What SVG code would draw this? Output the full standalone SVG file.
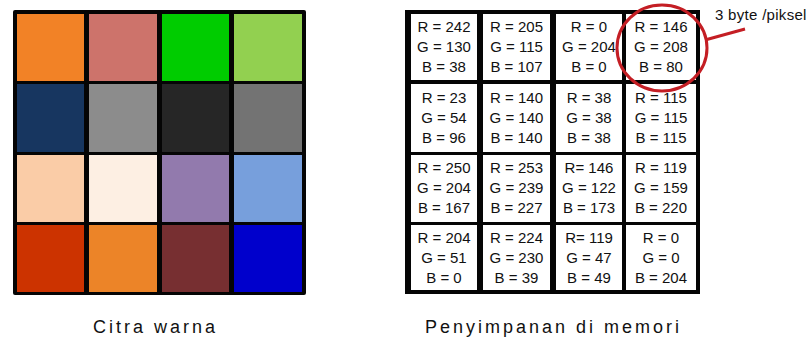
<svg xmlns="http://www.w3.org/2000/svg" width="810" height="342" viewBox="0 0 810 342">
<style>
.v{font-family:"Liberation Sans",Arial,sans-serif;font-size:15px;fill:#111;text-anchor:middle}
.cap{font-family:"Liberation Sans",Arial,sans-serif;font-size:18px;fill:#111;letter-spacing:3px}
.note{font-family:"Liberation Sans",Arial,sans-serif;font-size:15px;fill:#111;letter-spacing:0.3px}
.mc{fill:#fff}
.ring{fill:none;stroke:#c41e24;stroke-width:3}
</style>
<rect width="810" height="342" fill="#fff"/>
<g id="citra-warna">
<rect x="13" y="10" width="293" height="285" rx="2" fill="#050505"/>
<rect x="17" y="14" width="67" height="67" fill="rgb(242,130,38)"/>
<rect x="89" y="14" width="68" height="67" fill="rgb(205,115,107)"/>
<rect x="162" y="14" width="67" height="67" fill="rgb(0,204,0)"/>
<rect x="234" y="14" width="68" height="67" fill="rgb(146,208,80)"/>
<rect x="17" y="84" width="67" height="68" fill="rgb(23,54,96)"/>
<rect x="89" y="84" width="68" height="68" fill="rgb(140,140,140)"/>
<rect x="162" y="84" width="67" height="68" fill="rgb(38,38,38)"/>
<rect x="234" y="84" width="68" height="68" fill="rgb(115,115,115)"/>
<rect x="17" y="155" width="67" height="67" fill="rgb(250,204,167)"/>
<rect x="89" y="155" width="68" height="67" fill="rgb(253,239,227)"/>
<rect x="162" y="155" width="67" height="67" fill="rgb(146,122,173)"/>
<rect x="234" y="155" width="68" height="67" fill="rgb(119,159,220)"/>
<rect x="17" y="225" width="67" height="67" fill="rgb(204,51,0)"/>
<rect x="89" y="225" width="68" height="67" fill="rgb(236,132,40)"/>
<rect x="162" y="225" width="67" height="67" fill="rgb(119,47,49)"/>
<rect x="234" y="225" width="68" height="67" fill="rgb(0,0,204)"/>
</g>
<g id="memori">
<rect x="405" y="10" width="295" height="284" fill="#050505"/>
<rect class="mc" x="411" y="14" width="66" height="66"/>
<rect class="mc" x="483" y="14" width="67" height="66"/>
<rect class="mc" x="556" y="14" width="66" height="66"/>
<rect class="mc" x="626" y="14" width="70" height="66"/>
<rect class="mc" x="411" y="84" width="66" height="68"/>
<rect class="mc" x="483" y="84" width="67" height="68"/>
<rect class="mc" x="556" y="84" width="66" height="68"/>
<rect class="mc" x="626" y="84" width="70" height="68"/>
<rect class="mc" x="411" y="155" width="66" height="67"/>
<rect class="mc" x="483" y="155" width="67" height="67"/>
<rect class="mc" x="556" y="155" width="66" height="67"/>
<rect class="mc" x="626" y="155" width="70" height="67"/>
<rect class="mc" x="411" y="225" width="66" height="65"/>
<rect class="mc" x="483" y="225" width="67" height="65"/>
<rect class="mc" x="556" y="225" width="66" height="65"/>
<rect class="mc" x="626" y="225" width="70" height="65"/>
<text class="v" x="444" y="32">R = 242</text><text class="v" x="444" y="52">G = 130</text><text class="v" x="444" y="72">B = 38</text>
<text class="v" x="516.5" y="32">R = 205</text><text class="v" x="516.5" y="52">G = 115</text><text class="v" x="516.5" y="72">B =  107</text>
<text class="v" x="589" y="32">R = 0</text><text class="v" x="589" y="52">G = 204</text><text class="v" x="589" y="72">B = 0</text>
<text class="v" x="661" y="32">R = 146</text><text class="v" x="661" y="52">G = 208</text><text class="v" x="661" y="72">B = 80</text>
<text class="v" x="444" y="103">R = 23</text><text class="v" x="444" y="123">G = 54</text><text class="v" x="444" y="143">B = 96</text>
<text class="v" x="516.5" y="103">R = 140</text><text class="v" x="516.5" y="123">G = 140</text><text class="v" x="516.5" y="143">B = 140</text>
<text class="v" x="589" y="103">R = 38</text><text class="v" x="589" y="123">G = 38</text><text class="v" x="589" y="143">B = 38</text>
<text class="v" x="661" y="103">R = 115</text><text class="v" x="661" y="123">G = 115</text><text class="v" x="661" y="143">B = 115</text>
<text class="v" x="444" y="173">R = 250</text><text class="v" x="444" y="193">G = 204</text><text class="v" x="444" y="213">B = 167</text>
<text class="v" x="516.5" y="173">R = 253</text><text class="v" x="516.5" y="193">G = 239</text><text class="v" x="516.5" y="213">B = 227</text>
<text class="v" x="589" y="173">R= 146</text><text class="v" x="589" y="193">G = 122</text><text class="v" x="589" y="213">B = 173</text>
<text class="v" x="661" y="173">R = 119</text><text class="v" x="661" y="193">G = 159</text><text class="v" x="661" y="213">B = 220</text>
<text class="v" x="444" y="243">R = 204</text><text class="v" x="444" y="263">G = 51</text><text class="v" x="444" y="283">B = 0</text>
<text class="v" x="516.5" y="243">R = 224</text><text class="v" x="516.5" y="263">G = 230</text><text class="v" x="516.5" y="283">B = 39</text>
<text class="v" x="589" y="243">R= 119</text><text class="v" x="589" y="263">G = 47</text><text class="v" x="589" y="283">B = 49</text>
<text class="v" x="661" y="243">R = 0</text><text class="v" x="661" y="263">G = 0</text><text class="v" x="661" y="283">B = 204</text>
</g>
<g id="highlight">
<ellipse class="ring" cx="662" cy="48" rx="45" ry="43"/>
</g>
<g id="connectors">
<path class="ring" d="M705 40 L745 29"/>
</g>
<g id="label-byte">
<text class="note" x="715" y="20">3 byte /piksel</text>
</g>
<g id="captions">
<text class="cap" x="93" y="333">Citra warna</text>
<text class="cap" x="425" y="333">Penyimpanan di memori</text>
</g>
</svg>
